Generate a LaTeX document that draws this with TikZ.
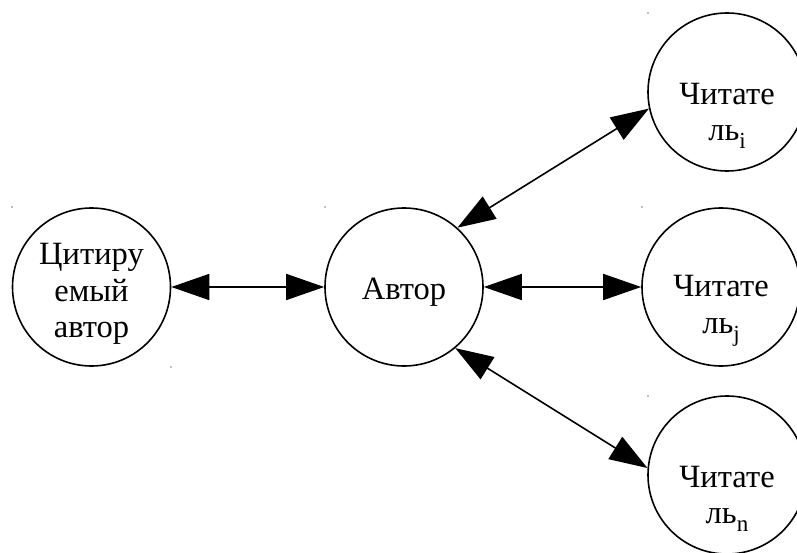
\documentclass[tikz,border=0pt]{standalone}
\usepackage{fontspec}
\setmainfont{Liberation Serif}
\usetikzlibrary{positioning,arrows.meta}

\newcommand{\idx}[1]{\raisebox{-8pt}{\fontsize{23}{23}\selectfont #1}}

\begin{document}
\begin{tikzpicture}[<->, >={Triangle[length=38pt, width=26pt]}, line width=1.6pt, x=1pt, y=1pt, node distance=315pt,
    main node/.style={circle, draw, minimum size=158pt, inner sep=0pt},
    name text/.style={align=center, font=\fontsize{32.5}{36.5}\selectfont}]

        \useasboundingbox (0,0) rectangle (797,552);

        \node[main node] (cited) at (91.5,265) {};
        \node[main node] (author) [right of=cited, xshift=-2.5pt] {};
        \node[main node] (readerj) [right of=author, xshift=2pt] {};
        \node[main node] (readeri) [right of=author, xshift=8pt, yshift=195pt] {};
        \node[main node] (readern) [right of=author, xshift=8pt, yshift=-188pt] {};

        % Labels
        \node[name text] (citedtext) at ([yshift=-7pt]cited.center) {Цитиру\\емый\\автор};
        \node[name text] (authortext) at ([yshift=-5pt]author.center) {Автор};
        \node[name text] (readeritext) at ([yshift=-24pt]readeri.center) {Читате\\ль\idx{i}};
        \node[name text] (readerjtext) at ([yshift=-24pt]readerj.center) {Читате\\ль\idx{j}};
        \node[name text] (readerntext) at ([yshift=-24pt]readern.center) {Читате\\ль\idx{n}};

        % Edges
        \draw (cited) -- (author);
        \draw (author) -- (readerj);
        \draw (author.48.5) -- (readeri.192.7);
        \draw (author.-50) -- (readern.175);

        % corner marks
        \foreach \p in {(12,345), (325,345), (171,185), (642,345), (648,539), (648,156)} {
            \fill[gray] \p circle (0.8pt);
        }
    \end{tikzpicture}
\end{document}
